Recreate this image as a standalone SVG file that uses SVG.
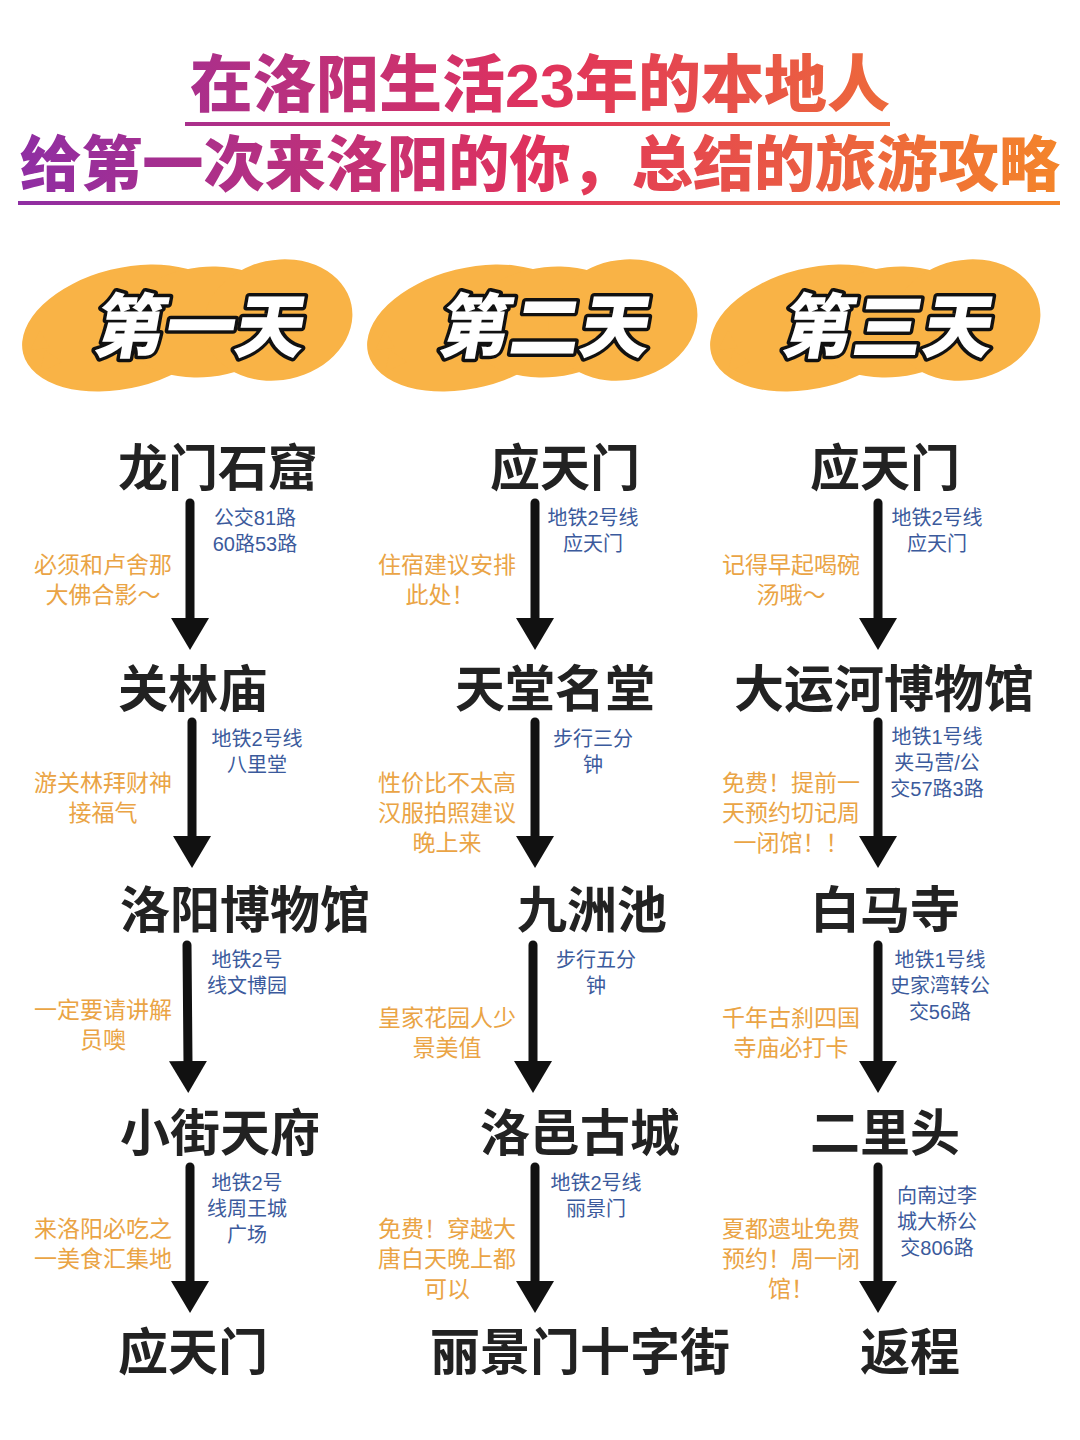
<svg xmlns="http://www.w3.org/2000/svg" width="1080" height="1440" viewBox="0 0 1080 1440">
<defs>
<linearGradient id="tg" gradientUnits="userSpaceOnUse" x1="20" y1="0" x2="1060" y2="0">
<stop offset="0" stop-color="#8f2ea3"/>
<stop offset="0.5" stop-color="#e0325c"/>
<stop offset="1" stop-color="#f4852a"/>
</linearGradient>
<marker id="ah" viewBox="0 0 32 38" refX="2" refY="19" markerWidth="32" markerHeight="38" markerUnits="userSpaceOnUse" orient="auto">
<path d="M0,0 L32,19 L0,38 Z" fill="#111"/>
</marker>
<g id="blob">
<ellipse cx="-65" cy="8" rx="105" ry="60" transform="rotate(-14 -65 8)"/>
<ellipse cx="15" cy="2" rx="85" ry="55" transform="rotate(-6 15 2)"/>
<ellipse cx="88" cy="0" rx="75" ry="60" transform="rotate(-12 88 0)"/>
<path d="M-150,10 L-160,30 L-140,28 Z"/>
<path d="M-145,30 L-150,52 L-128,42 Z"/>
</g>
</defs>
<style>
.title{font-family:"Liberation Sans","Noto Sans CJK SC",sans-serif;font-weight:900;fill:url(#tg);text-anchor:middle}
.day{font-family:"Noto Sans CJK SC",sans-serif;font-weight:900;font-size:70px;fill:#fff;stroke:#111;stroke-width:7px;stroke-linejoin:round;paint-order:stroke;text-anchor:middle}
.node{font-family:"Noto Sans CJK SC",sans-serif;font-weight:700;font-size:50px;fill:#222;text-anchor:middle}
.blue{font-family:"Liberation Sans","Noto Sans CJK SC",sans-serif;font-size:20px;fill:#3b5a9c;text-anchor:middle}
.org{font-family:"Liberation Sans","Noto Sans CJK SC",sans-serif;font-size:23px;fill:#eaa445;text-anchor:middle}
.blob{fill:#f9b346}
.arrow{stroke:#111;stroke-width:9;stroke-linecap:round;fill:none;marker-end:url(#ah)}
</style>
<rect width="1080" height="1440" fill="#fff"/>

<g id="title">
<text class="title" x="540" y="107" font-size="62" textLength="700" lengthAdjust="spacingAndGlyphs">在洛阳生活23年的本地人</text>
<rect x="185" y="122" width="705" height="4" fill="url(#tg)"/>
<text class="title" x="540" y="186" font-size="60" textLength="1040" lengthAdjust="spacingAndGlyphs">给第一次来洛阳的你，总结的旅游攻略</text>
<rect x="18" y="201" width="1042" height="4" fill="url(#tg)"/>
</g>

<g id="day1">
<use href="#blob" class="blob" x="190" y="320"/>
<text class="day" x="197" y="352" transform="skewX(-10) translate(62 0)">第一天</text>
</g>
<g id="day2">
<use href="#blob" class="blob" x="535" y="320"/>
<text class="day" x="542" y="352" transform="skewX(-10) translate(62 0)">第二天</text>
</g>
<g id="day3">
<use href="#blob" class="blob" x="878" y="320"/>
<text class="day" x="885" y="352" transform="skewX(-10) translate(62 0)">第三天</text>
</g>

<g id="connectors">
<line class="arrow" x1="190" y1="503" x2="190" y2="620"/>
<line class="arrow" x1="192" y1="722" x2="192" y2="838"/>
<line class="arrow" x1="187" y1="945" x2="188" y2="1063"/>
<line class="arrow" x1="190" y1="1167" x2="190" y2="1283"/>
<line class="arrow" x1="535" y1="503" x2="535" y2="620"/>
<line class="arrow" x1="535" y1="722" x2="535" y2="838"/>
<line class="arrow" x1="533" y1="945" x2="533" y2="1063"/>
<line class="arrow" x1="535" y1="1167" x2="535" y2="1283"/>
<line class="arrow" x1="878" y1="503" x2="878" y2="620"/>
<line class="arrow" x1="878" y1="722" x2="878" y2="838"/>
<line class="arrow" x1="878" y1="945" x2="878" y2="1063"/>
<line class="arrow" x1="878" y1="1167" x2="878" y2="1283"/>
</g>

<g id="labels">
<text class="blue" y="525"><tspan x="255">公交81路</tspan><tspan x="255" dy="26">60路53路</tspan></text>
<text class="org" y="573"><tspan x="103">必须和卢舍那</tspan><tspan x="103" dy="30">大佛合影～</tspan></text>
<text class="blue" y="746"><tspan x="257">地铁2号线</tspan><tspan x="257" dy="26">八里堂</tspan></text>
<text class="org" y="791"><tspan x="103">游关林拜财神</tspan><tspan x="103" dy="30">接福气</tspan></text>
<text class="blue" y="967"><tspan x="247">地铁2号</tspan><tspan x="247" dy="26">线文博园</tspan></text>
<text class="org" y="1018"><tspan x="103">一定要请讲解</tspan><tspan x="103" dy="30">员噢</tspan></text>
<text class="blue" y="1190"><tspan x="247">地铁2号</tspan><tspan x="247" dy="26">线周王城</tspan><tspan x="247" dy="26">广场</tspan></text>
<text class="org" y="1237"><tspan x="103">来洛阳必吃之</tspan><tspan x="103" dy="30">一美食汇集地</tspan></text>

<text class="blue" y="525"><tspan x="593">地铁2号线</tspan><tspan x="593" dy="26">应天门</tspan></text>
<text class="org" y="573"><tspan x="447">住宿建议安排</tspan><tspan x="440" dy="30">此处！</tspan></text>
<text class="blue" y="746"><tspan x="593">步行三分</tspan><tspan x="593" dy="26">钟</tspan></text>
<text class="org" y="791"><tspan x="447">性价比不太高</tspan><tspan x="447" dy="30">汉服拍照建议</tspan><tspan x="447" dy="30">晚上来</tspan></text>
<text class="blue" y="967"><tspan x="596">步行五分</tspan><tspan x="596" dy="26">钟</tspan></text>
<text class="org" y="1026"><tspan x="447">皇家花园人少</tspan><tspan x="447" dy="30">景美值</tspan></text>
<text class="blue" y="1190"><tspan x="596">地铁2号线</tspan><tspan x="596" dy="26">丽景门</tspan></text>
<text class="org" y="1237"><tspan x="447">免费！穿越大</tspan><tspan x="447" dy="30">唐白天晚上都</tspan><tspan x="447" dy="30">可以</tspan></text>

<text class="blue" y="525"><tspan x="937">地铁2号线</tspan><tspan x="937" dy="26">应天门</tspan></text>
<text class="org" y="573"><tspan x="791">记得早起喝碗</tspan><tspan x="791" dy="30">汤哦～</tspan></text>
<text class="blue" y="744"><tspan x="937">地铁1号线</tspan><tspan x="937" dy="26">夹马营/公</tspan><tspan x="937" dy="26">交57路3路</tspan></text>
<text class="org" y="791"><tspan x="791">免费！提前一</tspan><tspan x="791" dy="30">天预约切记周</tspan><tspan x="791" dy="30">一闭馆！！</tspan></text>
<text class="blue" y="967"><tspan x="940">地铁1号线</tspan><tspan x="940" dy="26">史家湾转公</tspan><tspan x="940" dy="26">交56路</tspan></text>
<text class="org" y="1026"><tspan x="791">千年古刹四国</tspan><tspan x="791" dy="30">寺庙必打卡</tspan></text>
<text class="blue" y="1203"><tspan x="937">向南过李</tspan><tspan x="937" dy="26">城大桥公</tspan><tspan x="937" dy="26">交806路</tspan></text>
<text class="org" y="1237"><tspan x="791">夏都遗址免费</tspan><tspan x="791" dy="30">预约！周一闭</tspan><tspan x="791" dy="30">馆！</tspan></text>
</g>

<g id="n1-1"><text class="node" x="218" y="486">龙门石窟</text></g>
<g id="n1-2"><text class="node" x="193" y="707">关林庙</text></g>
<g id="n1-3"><text class="node" x="245" y="928">洛阳博物馆</text></g>
<g id="n1-4"><text class="node" x="220" y="1151">小街天府</text></g>
<g id="n1-5"><text class="node" x="193" y="1370">应天门</text></g>

<g id="n2-1"><text class="node" x="565" y="486">应天门</text></g>
<g id="n2-2"><text class="node" x="555" y="707">天堂名堂</text></g>
<g id="n2-3"><text class="node" x="592" y="928">九洲池</text></g>
<g id="n2-4"><text class="node" x="580" y="1151">洛邑古城</text></g>
<g id="n2-5"><text class="node" x="580" y="1370">丽景门十字街</text></g>

<g id="n3-1"><text class="node" x="885" y="486">应天门</text></g>
<g id="n3-2"><text class="node" x="884" y="707">大运河博物馆</text></g>
<g id="n3-3"><text class="node" x="885" y="928">白马寺</text></g>
<g id="n3-4"><text class="node" x="885" y="1151">二里头</text></g>
<g id="n3-5"><text class="node" x="910" y="1370">返程</text></g>
</svg>
